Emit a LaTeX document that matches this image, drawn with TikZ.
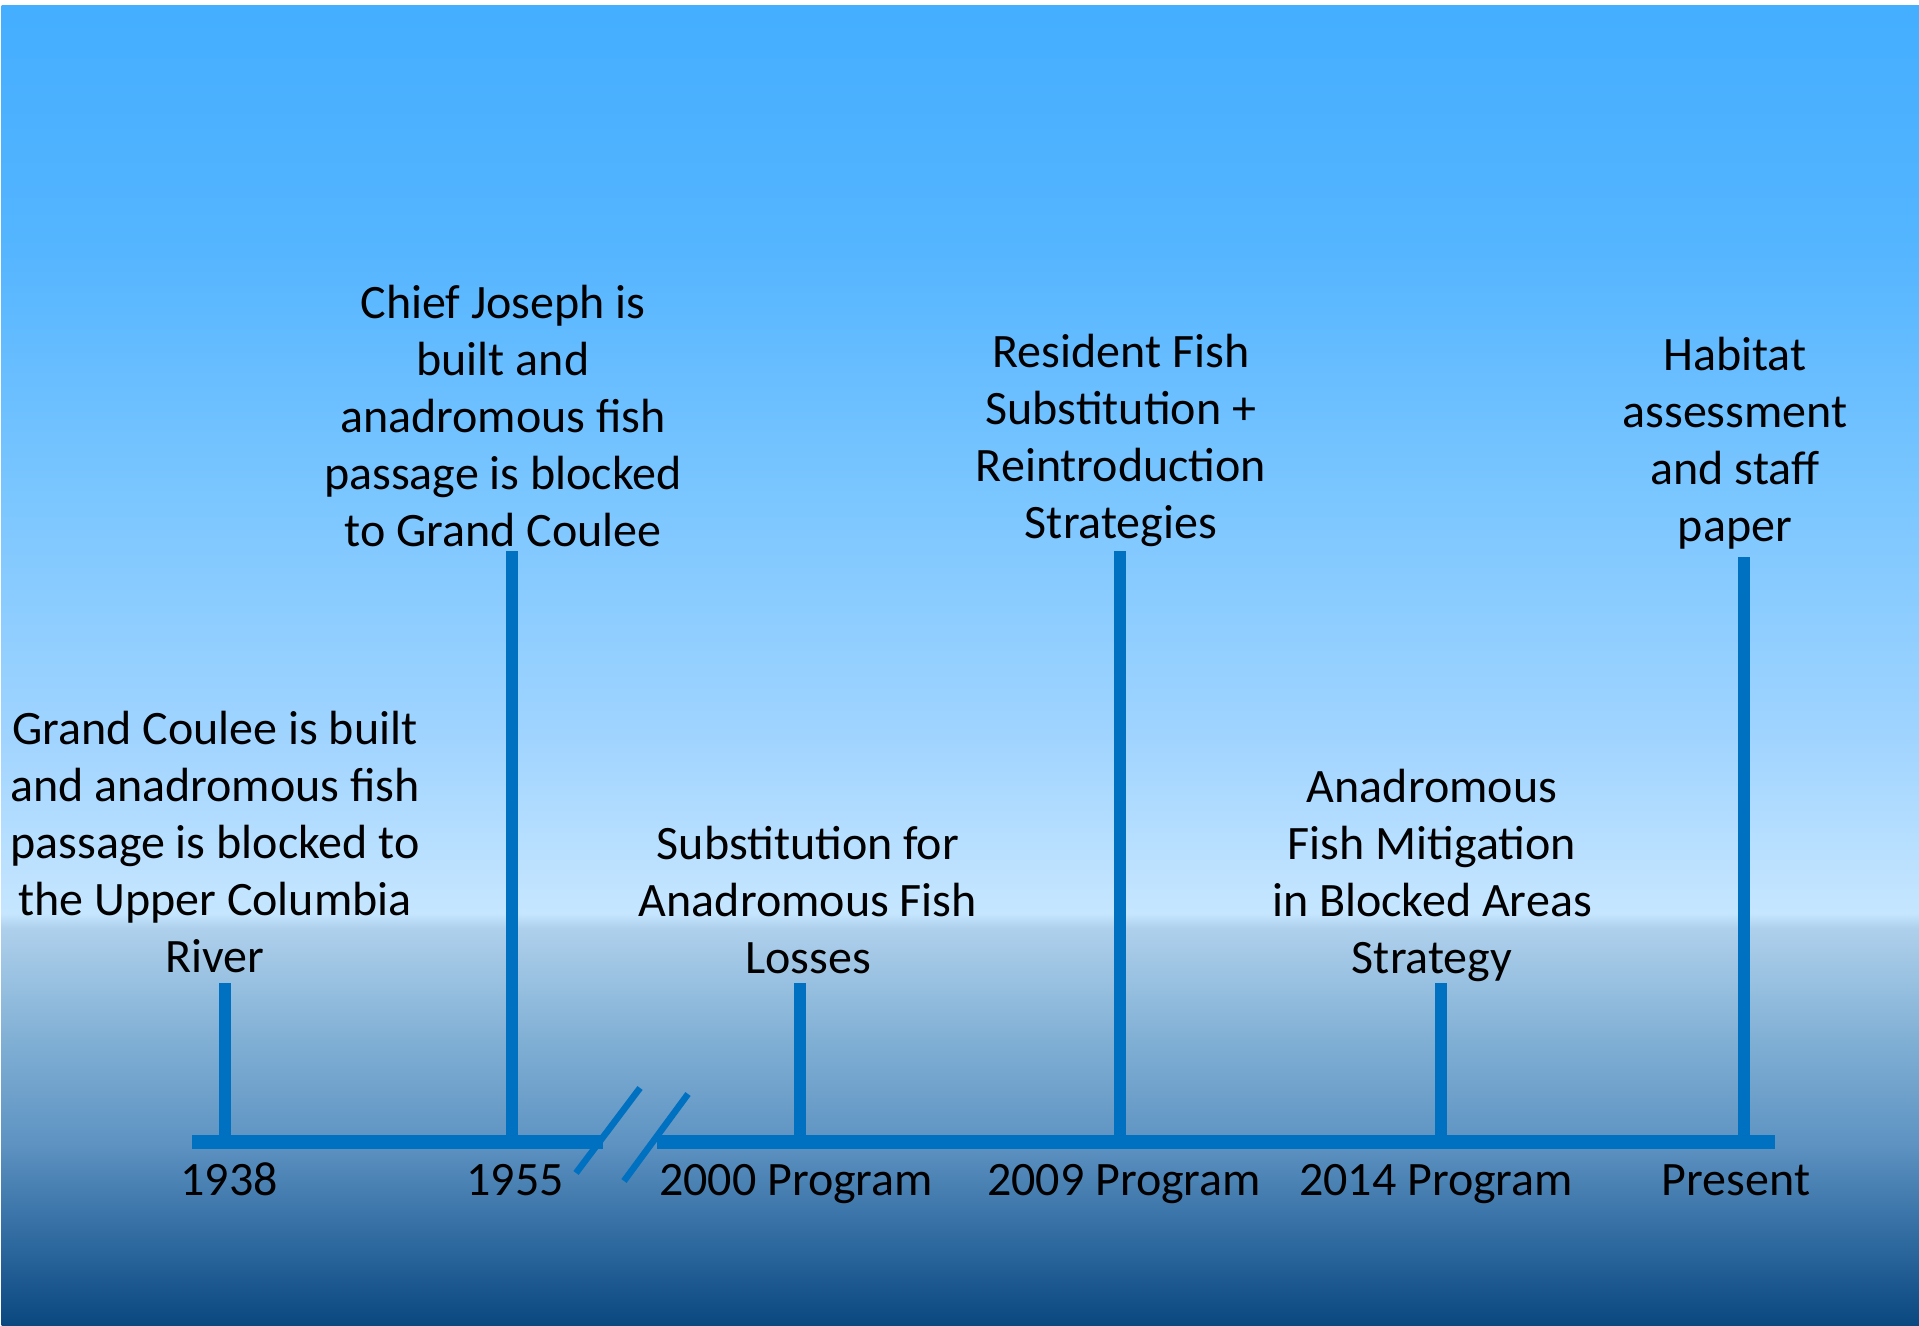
\documentclass[tikz,border=0pt]{standalone}
\usepackage{fontspec}
\setmainfont{Carlito}
\definecolor{lineblue}{HTML}{0070C0}
\definecolor{bgA}{HTML}{0A4880}
\definecolor{bgB}{HTML}{3670A5}
\definecolor{bgC}{HTML}{5E93C2}
\definecolor{bgD}{HTML}{80AFD4}
\definecolor{bgE}{HTML}{AED0EC}
\definecolor{bgF}{HTML}{C6E6FF}
\definecolor{bgG}{HTML}{A0D4FF}
\definecolor{bgH}{HTML}{7AC6FF}
\definecolor{bgI}{HTML}{55B5FF}
\definecolor{bgJ}{HTML}{44AEFF}
\pgfdeclareverticalshading{bgshade}{100bp}{color(0bp)=(bgA); color(25bp)=(bgA); color(28.8bp)=(bgB); color(31.9bp)=(bgC); color(35.75bp)=(bgD); color(40.05bp)=(bgE); color(40.6bp)=(bgF); color(47.3bp)=(bgG); color(56.5bp)=(bgH); color(65.75bp)=(bgI); color(75bp)=(bgJ); color(100bp)=(bgJ)}
\tikzset{
  axisline/.style={draw=lineblue, line width=14.5pt, line cap=butt},
  tickline/.style={draw=lineblue, line width=12pt, line cap=butt},
  breakline/.style={draw=lineblue, line width=6.5pt, line cap=butt},
  evtext/.style={align=center, inner sep=0pt, font=\fontsize{48}{57}\selectfont},
  yeartext/.style={inner sep=0pt, anchor=base, font=\fontsize{48}{57}\selectfont},
}
\begin{document}
\begin{tikzpicture}[x=1pt,y=1pt]
\useasboundingbox (0,0) rectangle (1919,1325);
\fill[white] (0,0) rectangle (1919,1325);
\shade[shading=bgshade] (1.5,0) rectangle (1919,1319);

% axis
\coordinate (axL) at (192,183);
\coordinate (brA) at (603,183);
\coordinate (brB) at (657,183);
\coordinate (axR) at (1775,183);
\draw[axisline] (axL) -- (brA);
\draw[axisline] (brB) -- (axR);

% break marks
\coordinate (s1a) at (576,152);
\coordinate (s1b) at (640,237);
\coordinate (s2a) at (624,144);
\coordinate (s2b) at (688,231);
\draw[breakline] (s1a) -- (s1b);
\draw[breakline] (s2a) -- (s2b);

% ticks
\coordinate (b1) at (225,183);  \coordinate (t1) at (225,342);
\coordinate (b2) at (512,183);  \coordinate (t2) at (512,774);
\coordinate (b3) at (800,183);  \coordinate (t3) at (800,342);
\coordinate (b4) at (1120,183); \coordinate (t4) at (1120,774);
\coordinate (b5) at (1441,183); \coordinate (t5) at (1441,342);
\coordinate (b6) at (1744,183); \coordinate (t6) at (1744,768);
\foreach \i in {1,...,6} { \draw[tickline] (b\i) -- (t\i); }

% year labels
\node[yeartext] (y1) at (229,129) {1938};
\node[yeartext] (y2) at (515,129) {1955};
\node[yeartext] (y3) at (796,129) {2000 Program};
\node[yeartext] (y4) at (1124,129) {2009 Program};
\node[yeartext] (y5) at (1436,129) {2014 Program};
\node[yeartext] (y6) at (1736,129) {Present};

% event texts
\node[evtext] (e1) at (215,483) {Grand Coulee is built\\and anadromous fish\\passage is blocked to\\the Upper Columbia\\River};
\node[evtext] (e2) at (503,909) {Chief Joseph is\\built and\\anadromous fish\\passage is blocked\\to Grand Coulee};
\node[evtext] (e3) at (808,425) {Substitution for\\Anadromous Fish\\Losses};
\node[evtext] (e4) at (1121,885) {Resident Fish\\Substitution +\\Reintroduction\\Strategies};
\node[evtext] (e5) at (1432,450) {Anadromous\\Fish Mitigation\\in Blocked Areas\\Strategy};
\node[evtext] (e6) at (1735,882) {Habitat\\assessment\\and staff\\paper};
\end{tikzpicture}
\end{document}
